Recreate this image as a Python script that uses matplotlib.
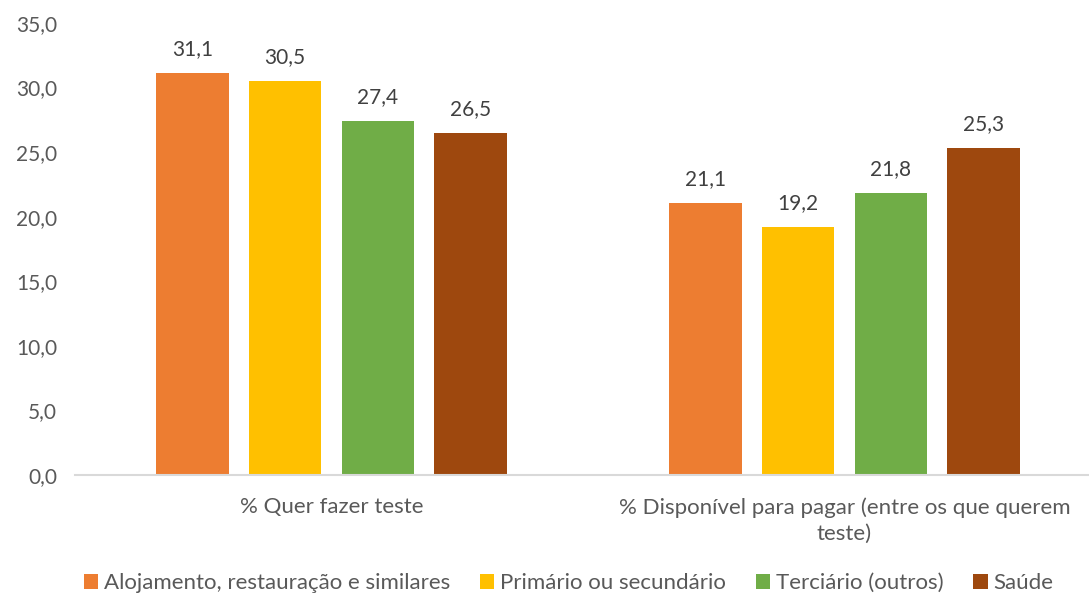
import matplotlib.pyplot as plt
import numpy as np

categories = ["% Quer fazer teste", "% Disponível para pagar (entre os que querem\nteste)"]
series_names = ["Alojamento, restauração e similares", "Primário ou secundário",
                "Terciário (outros)", "Saúde"]
alojamento = [31.1, 21.1]
primario = [30.5, 19.2]
terciario = [27.4, 21.8]
saude = [26.5, 25.3]
colors = ["#ED7D31", "#FFC000", "#70AD47", "#9E480E"]
yticks = [0, 5, 10, 15, 20, 25, 30, 35]

plt.rcParams["font.family"] = ["Lato", "DejaVu Sans"]

fig = plt.figure(figsize=(10.89, 5.99), dpi=100)
ax = fig.add_axes([75 / 1089, 1 - 475 / 599, 1026 / 1089, (475 - 23) / 599])

x = np.arange(len(categories))
width = 0.142
step = 0.181
for i, (vals, name, col) in enumerate(zip([alojamento, primario, terciario, saude], series_names, colors)):
    pos = x + (i - 1.5) * step
    ax.bar(pos, vals, width, color=col, label=name)
    for p, v in zip(pos, vals):
        ax.annotate(f"{v:.1f}".replace(".", ","), (p, v), xytext=(0, 10), textcoords="offset points",
                    ha="center", va="bottom", fontsize=15, color="#404040")

ax.set_xlim(-0.5, 1.5)
ax.set_ylim(0, 35)
ax.set_yticks(yticks)
ax.set_yticklabels([f"{t:.1f}".replace(".", ",") for t in yticks], fontsize=15, color="#595959")
ax.set_xticks(x)
ax.set_xticklabels(categories, fontsize=16, color="#595959", linespacing=1.4)
ax.tick_params(axis="both", length=0)
ax.tick_params(axis="y", pad=13)
ax.tick_params(axis="x", pad=16)
for s in ["top", "right", "left"]:
    ax.spines[s].set_visible(False)
ax.spines["bottom"].set_color("#D9D9D9")
ax.spines["bottom"].set_linewidth(1.5)

fig.legend(loc="center", bbox_to_anchor=(0.522, 1 - 583 / 599), ncol=4, frameon=False,
           fontsize=16, labelcolor="#595959", handlelength=0.65, handleheight=0.65,
           handletextpad=0.25, columnspacing=1.35)

fig.savefig("out.png", dpi=100)
